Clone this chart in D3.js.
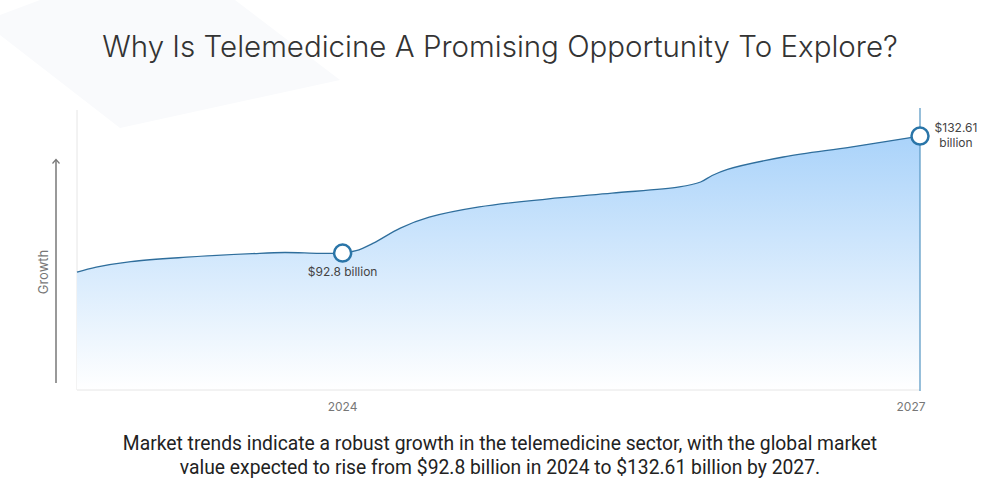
<!DOCTYPE html>
<html>
<head>
<meta charset="utf-8">
<script src="https://cdn.jsdelivr.net/npm/d3@7"></script>
<style>
  html, body { margin: 0; padding: 0; background: #fff; }
  svg { display: block; }
</style>
</head>
<body>
<svg id="chart" width="1000" height="500"></svg>
<script>
// market curve, years vs billions
const years = [2022.62, 2022.72, 2022.9, 2023.19, 2023.53, 2023.7, 2023.88, 2024, 2024.07, 2024.16, 2024.3, 2024.45, 2024.71, 2025.06, 2025.4, 2025.75, 2025.86, 2025.92, 2026.0, 2026.29, 2026.64, 2027];
const values = [86.3, 88.0, 89.9, 91.4, 92.6, 93.0, 92.7, 92.8, 93.6, 96.2, 101.3, 105.0, 108.5, 111.2, 113.2, 115.3, 117.0, 119.2, 121.3, 125.5, 128.9, 132.61];
const tickYears = [2024, 2027];
const markers = [
  { year: 2024, value: 92.8, label: ["$92.8 billion"] },
  { year: 2027, value: 132.61, label: ["$132.61", "billion"] },
];
const title = "Why Is Telemedicine A Promising Opportunity To Explore?";
const caption = [
  "Market trends indicate a robust growth in the telemedicine sector, with the global market",
  "value expected to rise from $92.8 billion in 2024 to $132.61 billion by 2027.",
];

const svg = d3.select("#chart");
const margin = { left: 77, right: 80, top: 110, bottom: 110 };
const width = 1000;

const data = years.map((y, i) => ({ year: y, value: values[i] }));

const x = d3.scaleLinear().domain([years[0], 2027]).range([margin.left, 920]);
const y = d3.scaleLinear().domain([46.2, 141.5]).range([390, margin.top]);

// faint background decoration
svg.append("polygon")
  .attr("points", "40,0 235,0 340,80 120,128 0,35 0,15")
  .attr("fill", "#f9fafc");

svg.append("text")
  .attr("x", width / 2)
  .attr("y", 57)
  .attr("text-anchor", "middle")
  .attr("font-family", "Inter, 'Open Sans', sans-serif")
  .attr("font-weight", 300)
  .attr("font-size", 29.5)
  .attr("fill", "#333")
  .text(title);

const defs = svg.append("defs");
const grad = defs.append("linearGradient")
  .attr("id", "fillGrad")
  .attr("x1", 0).attr("y1", 0).attr("x2", 0).attr("y2", 1);
grad.append("stop").attr("offset", "0%").attr("stop-color", "#aad3fa");
grad.append("stop").attr("offset", "100%").attr("stop-color", "#ffffff");

// plot frame
svg.append("line")
  .attr("x1", margin.left).attr("x2", margin.left)
  .attr("y1", margin.top).attr("y2", 390)
  .attr("stroke", "#e6e6e6");

const area = d3.area()
  .x((d) => x(d.year))
  .y0(390)
  .y1((d) => y(d.value))
  .curve(d3.curveCatmullRom.alpha(0.5));

const line = d3.line()
  .x((d) => x(d.year))
  .y((d) => y(d.value))
  .curve(d3.curveCatmullRom.alpha(0.5));

svg.append("path")
  .datum(data)
  .attr("d", area)
  .attr("fill", "url(#fillGrad)");

svg.append("path")
  .datum(data)
  .attr("d", line)
  .attr("fill", "none")
  .attr("stroke", "#2f6e9c")
  .attr("stroke-width", 1.3);

// x axis baseline and ticks
svg.append("line")
  .attr("x1", margin.left).attr("x2", 920)
  .attr("y1", 390).attr("y2", 390)
  .attr("stroke", "#e6e6e6");

svg.append("line")
  .attr("x1", x(2027)).attr("x2", x(2027))
  .attr("y1", 108).attr("y2", 391)
  .attr("stroke", "#5f9cc6")
  .attr("stroke-width", 1.3);

svg.selectAll(".tick-label")
  .data(tickYears)
  .join("text")
  .attr("class", "tick-label")
  .attr("x", (d) => x(d) - (d === 2027 ? 9 : 0))
  .attr("y", 411)
  .attr("text-anchor", "middle")
  .attr("font-family", "Inter, sans-serif")
  .attr("font-size", 12)
  .attr("fill", "#777")
  .text((d) => d);

// growth arrow
svg.append("line")
  .attr("x1", 56).attr("x2", 56)
  .attr("y1", 383).attr("y2", 160)
  .attr("stroke", "#777")
  .attr("stroke-width", 1.5);

svg.append("path")
  .attr("d", "M52.5,163.5 L56,159.5 L59.5,163.5")
  .attr("fill", "none")
  .attr("stroke", "#777")
  .attr("stroke-width", 1.2);

svg.append("text")
  .attr("transform", "translate(48,272) rotate(-90)")
  .attr("text-anchor", "middle")
  .attr("font-family", "Inter, sans-serif")
  .attr("font-size", 13)
  .attr("fill", "#777")
  .text("Growth");

// markers
const mk = svg.selectAll(".marker")
  .data(markers)
  .join("g")
  .attr("class", "marker");

mk.append("circle")
  .attr("cx", (d) => x(d.year))
  .attr("cy", (d) => y(d.value))
  .attr("r", 8.5)
  .attr("fill", "#fff")
  .attr("stroke", "#2a75a8")
  .attr("stroke-width", 2.5);

mk.each(function (d) {
  const g = d3.select(this);
  const isEnd = d.year === 2027;
  const t = g.append("text")
    .attr("text-anchor", "middle")
    .attr("font-family", "Inter, sans-serif")
    .attr("font-size", 12)
    .attr("fill", "#444");
  d.label.forEach((s, i) => {
    t.append("tspan")
      .attr("x", isEnd ? x(d.year) + 36 : x(d.year))
      .attr("y", isEnd ? y(d.value) - 4 + i * 15 : y(d.value) + 23)
      .text(s);
  });
});

svg.append("text")
  .attr("text-anchor", "middle")
  .attr("font-family", "Roboto, sans-serif")
  .attr("font-size", 19.3)
  .attr("fill", "#222")
  .selectAll("tspan")
  .data(caption)
  .join("tspan")
  .attr("x", width / 2)
  .attr("y", (d, i) => 450 + i * 24)
  .text((d) => d);
</script>
</body>
</html>
